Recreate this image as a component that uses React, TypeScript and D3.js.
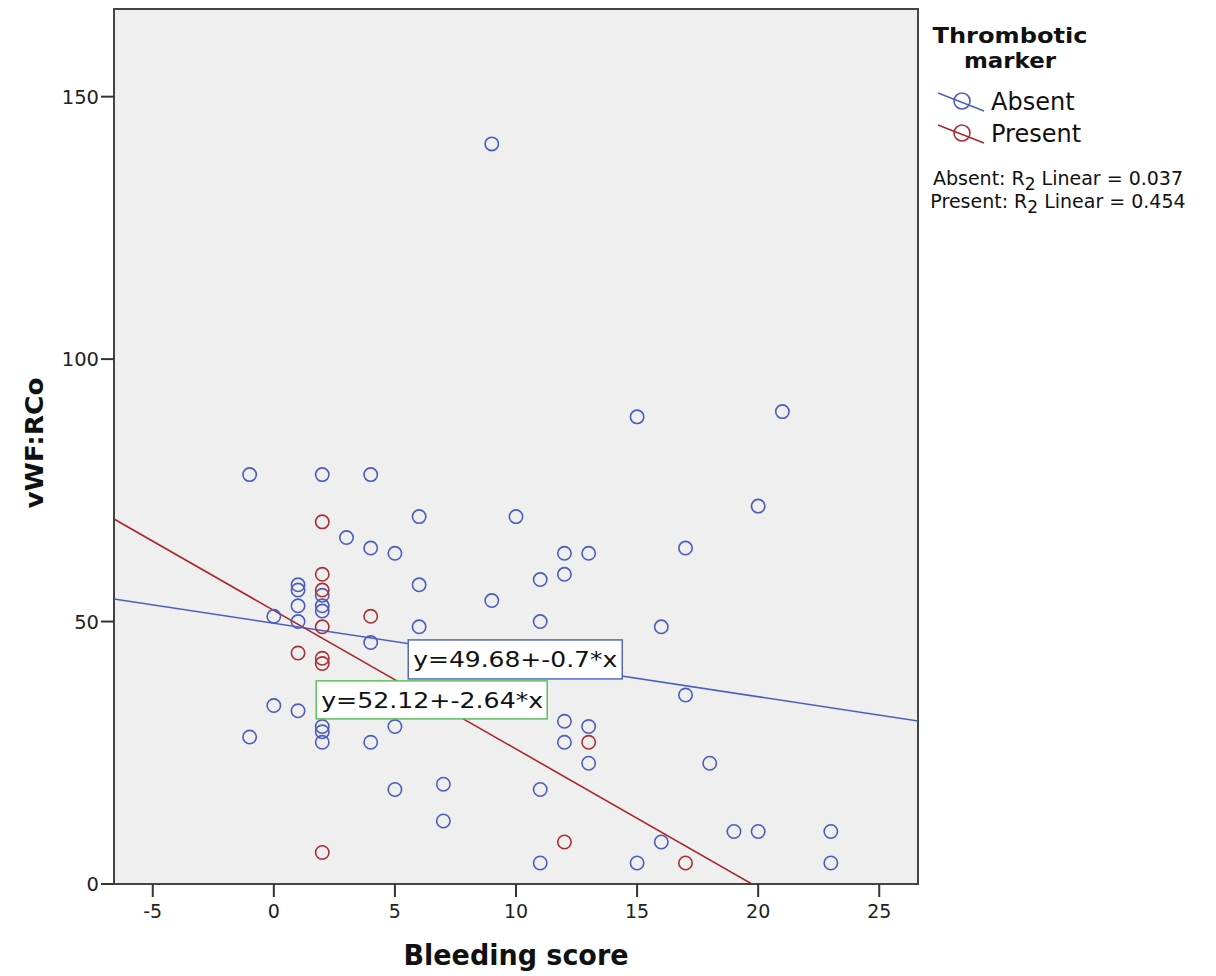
import React from 'react';
import * as d3 from 'd3';

// ---- data ----
const seriesNames = ['Absent', 'Present'];
const absentX = [-1, 2, 4, 9, 15, 21, 3, 4, 5, 6, 10, 20, 12, 13, 17, 11, 12, 6, 9, 11, 16, 6, 4, 0, 17, 1, 1, 1, 1, 1, 0, -1, 2, 2, 2, 2, 2, 2, 4, 5, 5, 7, 7, 11, 11, 12, 12, 13, 13, 15, 16, 18, 19, 20, 23, 23];
const absentY = [78, 78, 78, 141, 89, 90, 66, 64, 63, 70, 70, 72, 63, 63, 64, 58, 59, 57, 54, 50, 49, 49, 46, 51, 36, 57, 56, 53, 50, 33, 34, 28, 55, 53, 52, 30, 29, 27, 27, 30, 18, 19, 12, 18, 4, 31, 27, 30, 23, 4, 8, 23, 10, 10, 10, 4];
const presentX = [2, 2, 2, 2, 2, 2, 2, 1, 4, 12, 13, 17];
const presentY = [69, 59, 56, 49, 43, 42, 6, 44, 51, 8, 27, 4];
const fitIntercepts = [49.68, 52.12];
const fitSlopes = [-0.7, -2.64];
const fitLabels = ['y=49.68+-0.7*x', 'y=52.12+-2.64*x'];
const rSquared = ['0.037', '0.454'];
const xTicks = [-5, 0, 5, 10, 15, 20, 25];
const yTicks = [0, 50, 100, 150];

const colors = ['#4a5dbd', '#ab2e34'];
const lineColors = ['#4a5fc4', '#a8262c'];
const boxColors = ['#5468c0', '#5cc05c'];
const FONT = '"DejaVu Sans", Verdana, sans-serif';

export default function App() {
  const left = 114, right = 918, top = 9, bottom = 884;
  const x = d3.scaleLinear().domain([-6.6, 26.6]).range([left, right]);
  const y = d3.scaleLinear().domain([0, 166.7]).range([bottom, top]);

  const series = [
    { name: seriesNames[0], xs: absentX, ys: absentY },
    { name: seriesNames[1], xs: presentX, ys: presentY },
  ];

  const line = d3.line<[number, number]>().x(d => x(d[0])).y(d => y(d[1]));
  const [x0, x1] = x.domain();

  // label boxes anchored in data space
  const boxes = [
    { bx: 5.55, by: 46.5, w: 214, h: 39, tl: 204 },
    { bx: 1.75, by: 38.7, w: 231, h: 38, tl: 222 },
  ];

  return (
    <div style={{ position: 'absolute', left: 0, top: 0 }}>
      <svg width={1216} height={976} style={{ display: 'block', background: '#fff' }}>
        <defs>
          <clipPath id="plotClip">
            <rect x={left} y={top} width={right - left} height={bottom - top} />
          </clipPath>
        </defs>
        <rect x={left} y={top} width={right - left} height={bottom - top} fill="#efefef" />

        <g clipPath="url(#plotClip)">
          {series.map((s, i) => (
            <path key={'fit' + i}
              d={line([[x0, fitIntercepts[i] + fitSlopes[i] * x0], [x1, fitIntercepts[i] + fitSlopes[i] * x1]]) || ''}
              stroke={lineColors[i]} strokeWidth={1.6} fill="none" />
          ))}
          {series.map((s, i) =>
            s.xs.map((v, j) => (
              <circle key={i + '-' + j} cx={x(v)} cy={y(s.ys[j])} r={6.7}
                fill="none" stroke={colors[i]} strokeWidth={1.6} />
            ))
          )}
        </g>

        {/* fit labels */}
        {boxes.map((b, i) => (
          <g key={'box' + i}>
            <rect x={x(b.bx)} y={y(b.by)} width={b.w} height={b.h} fill="#fff" stroke={boxColors[i]} strokeWidth={1.5} />
            <text x={x(b.bx) + 5} y={y(b.by) + b.h / 2 + 8} fontFamily={FONT} fontSize={22} fill="#111"
              textLength={b.tl} lengthAdjust="spacingAndGlyphs">{fitLabels[i]}</text>
          </g>
        ))}

        {/* frame */}
        <rect x={left} y={top} width={right - left} height={bottom - top} fill="none" stroke="#444" strokeWidth={2} />

        {/* y axis */}
        {yTicks.map(t => (
          <g key={'yt' + t}>
            <line x1={left - 13} x2={left} y1={y(t)} y2={y(t)} stroke="#333" strokeWidth={2} />
            <text x={left - 15} y={y(t)} dy="0.36em" textAnchor="end" fontFamily={FONT} fontSize={19.5} fill="#222">{t}</text>
          </g>
        ))}
        {/* x axis */}
        {xTicks.map(t => (
          <g key={'xt' + t}>
            <line x1={x(t)} x2={x(t)} y1={bottom} y2={bottom + 13} stroke="#333" strokeWidth={2} />
            <text x={x(t)} y={bottom + 34} textAnchor="middle" fontFamily={FONT} fontSize={19} fill="#222">{t < 0 ? '-' + Math.abs(t) : t}</text>
          </g>
        ))}

        <text x={516} y={965} textAnchor="middle" fontFamily={FONT} fontWeight="bold" fontSize={28} fill="#111"
          textLength={225} lengthAdjust="spacingAndGlyphs">Bleeding score</text>
        <text transform="translate(43,443) rotate(-90)" textAnchor="middle" fontFamily={FONT} fontWeight="bold" fontSize={25} fill="#111"
          textLength={131} lengthAdjust="spacingAndGlyphs">vWF:RCo</text>

        {/* legend */}
        <text x={1010} y={43} textAnchor="middle" fontFamily={FONT} fontWeight="bold" fontSize={21} fill="#111"
          textLength={155} lengthAdjust="spacingAndGlyphs">Thrombotic</text>
        <text x={1010} y={68} textAnchor="middle" fontFamily={FONT} fontWeight="bold" fontSize={21} fill="#111"
          textLength={92} lengthAdjust="spacingAndGlyphs">marker</text>
        {seriesNames.map((n, i) => (
          <g key={'lg' + i} transform={`translate(0, ${i * 32})`}>
            <line x1={938} y1={93} x2={984} y2={111} stroke={lineColors[i]} strokeWidth={1.5} />
            <circle cx={962} cy={101} r={8} fill="none" stroke={colors[i]} strokeWidth={1.6} />
            <text x={991} y={110} fontFamily={FONT} fontSize={24} fill="#111">{n}</text>
          </g>
        ))}
        {seriesNames.map((n, i) => (
          <text key={'r2' + i} x={1058} y={185 + i * 23} textAnchor="middle" fontFamily={FONT} fontSize={19} fill="#111">
            {n}: R<tspan dy="5" fontSize={17}>2</tspan><tspan dy="-5"> Linear = {rSquared[i]}</tspan>
          </text>
        ))}
      </svg>
    </div>
  );
}
